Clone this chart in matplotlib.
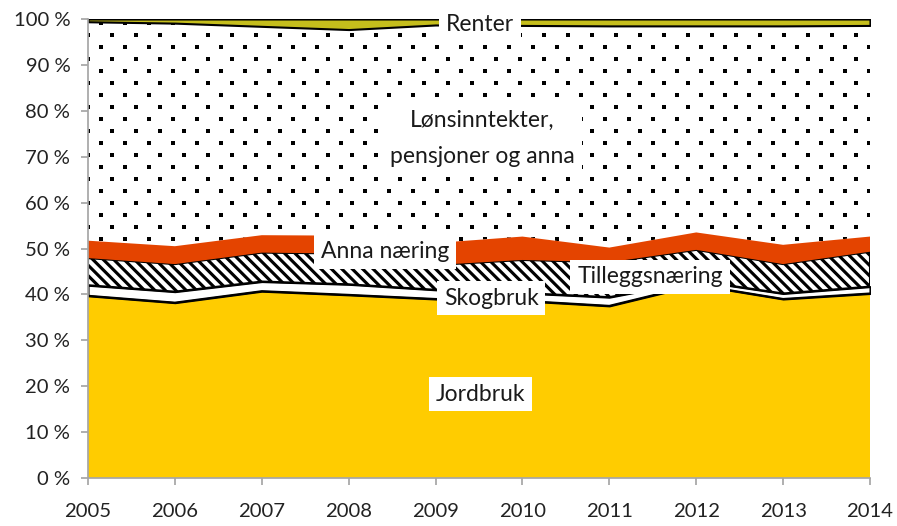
import numpy as np
import matplotlib
matplotlib.use("Agg")
import matplotlib.pyplot as plt

# andel av samla inntekt (prosent), lest av figuren
years = [2005, 2006, 2007, 2008, 2009, 2010, 2011, 2012, 2013, 2014]
jordbruk = [39.7, 38.2, 40.7, 39.9, 39.0, 38.6, 37.5, 42.1, 39.0, 40.2]
skogbruk = [2.3, 2.4, 2.1, 2.3, 2.0, 1.7, 1.9, 0.9, 1.2, 1.5]
tillegg = [5.9, 6.0, 6.3, 6.7, 5.4, 7.2, 7.6, 6.7, 6.4, 7.6]
anna_naering = [3.8, 3.9, 3.8, 3.9, 4.8, 5.1, 3.2, 3.8, 4.2, 3.3]
lonn = [47.7, 48.6, 45.5, 44.9, 47.5, 46.0, 48.3, 45.0, 47.7, 46.0]
renter = [0.6, 0.9, 1.6, 2.3, 1.3, 1.4, 1.5, 1.5, 1.5, 1.4]

ytick_vals = list(range(0, 101, 10))
ytick_labels = [f"{v} %" for v in ytick_vals]

DPI = 125
W, H = 897, 526
plt.rcParams['font.family'] = ['Lato', 'DejaVu Sans']
plt.rcParams['hatch.linewidth'] = 1.8

fig = plt.figure(figsize=(W / DPI, H / DPI), dpi=DPI)
ax = fig.add_axes([88 / W, (H - 478) / H, (870 - 88) / W, (478 - 19) / H])

x = np.array(years)
layers = [jordbruk, skogbruk, tillegg, anna_naering, lonn, renter]
tops = np.cumsum(np.array(layers, dtype=float), axis=0)
bottoms = np.vstack([np.zeros(len(years)), tops[:-1]])

ax.fill_between(x, bottoms[0], tops[0], facecolor='#FFCC00', edgecolor='none', zorder=2)
ax.plot(x, tops[0], color='black', lw=1.2, zorder=4)
ax.fill_between(x, bottoms[1], tops[1], facecolor='white', edgecolor='black', lw=1.2, zorder=3)
ax.fill_between(x, bottoms[2], tops[2], facecolor='white', edgecolor='black', hatch='\\\\\\\\',
                lw=1.2, zorder=3)
ax.fill_between(x, bottoms[3], tops[3], facecolor='#E44400', edgecolor='none', zorder=3)
loenn_poly = ax.fill_between(x, bottoms[4], tops[4], facecolor='white', edgecolor='none', zorder=2)
ax.fill_between(x, bottoms[5], tops[5], facecolor='#C5BE1C', edgecolor='black', lw=1.2, zorder=3)

ax.set_xlim(2005, 2014)
ax.set_ylim(0, 100)

# prikkemønster for lønsinntekter (24 px x 12 px, forskjøvet)
px_year = (870 - 88) / 9
px_pct = (478 - 19) / 100
dx, dy = 24 / px_year, 12 / px_pct
dot_x, dot_y = [], []
for i, yy in enumerate(np.arange(100 - 4 / px_pct, 0, -dy)):
    off = 13 / px_year if i % 2 == 0 else 0
    for xx in np.arange(2005 + off, 2014.01, dx):
        dot_x.append(xx)
        dot_y.append(yy)
dots = ax.scatter(dot_x, dot_y, marker='s', s=3.2, color='black', lw=0, zorder=2.5)
dots.set_clip_path(loenn_poly.get_paths()[0], ax.transData)

for s in ['top', 'right']:
    ax.spines[s].set_visible(False)
for s in ['left', 'bottom']:
    ax.spines[s].set_color('#A6A6A6')
    ax.spines[s].set_linewidth(1.0)
    ax.spines[s].set_zorder(5)

ax.set_xticks(years)
ax.set_yticks(ytick_vals)
ax.set_yticklabels(ytick_labels)
ax.tick_params(axis='both', colors='#A6A6A6', length=4.2, width=1.0, labelcolor='#222222',
               labelsize=11.7)
ax.tick_params(axis='x', pad=10)
ax.tick_params(axis='y', pad=6)

box = dict(facecolor='white', edgecolor='none', pad=4.0)
lab = dict(fontsize=13.2, color='#1a1a1a', ha='center', va='center', bbox=box, zorder=10,
           clip_on=False)
ax.text(2009.51, 98.9, 'Renter', **lab)
ax.text(2009.54, 74.0, 'Lønsinntekter,\npensjoner og anna', linespacing=1.85, **lab)
ax.text(2008.42, 49.4, 'Anna næring', **lab)
ax.text(2011.47, 43.8, 'Tilleggsnæring', **lab)
ax.text(2009.64, 39.2, 'Skogbruk', **lab)
ax.text(2009.52, 18.3, 'Jordbruk', **lab)

fig.savefig('out.png', dpi=DPI)
